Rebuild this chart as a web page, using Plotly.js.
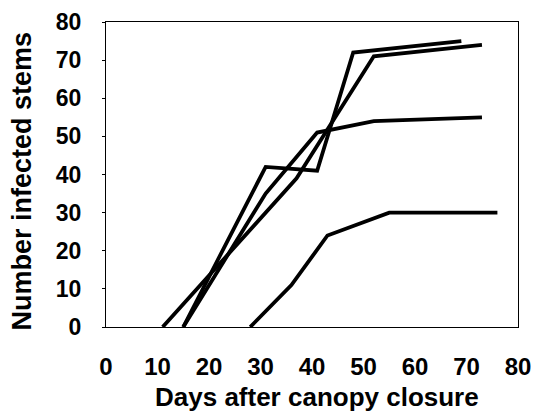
<!DOCTYPE html>
<html>
<head>
<meta charset="utf-8">
<script src="https://cdn.plot.ly/plotly-3.0.1.min.js"></script>
<style>html,body{margin:0;padding:0;background:#fff;}#chart{width:540px;height:415px;}</style>
</head>
<body>
<div id="chart"></div>
<script>
// Series (days after canopy closure, number infected stems)
const daysA = [28, 36, 43, 55, 76];
const stemsA = [0, 11, 24, 30, 30];

const daysB = [11, 37, 52, 73];
const stemsB = [0, 39, 71, 74];

const daysC = [15, 31, 41, 48, 69];
const stemsC = [0, 42, 41, 72, 75];

const daysD = [15, 31, 41, 52, 73];
const stemsD = [0, 35, 51, 54, 55];

const xTicks = [0, 10, 20, 30, 40, 50, 60, 70, 80];
const yTicks = [0, 10, 20, 30, 40, 50, 60, 70, 80];

const xTitle = 'Days after canopy closure';
const yTitle = 'Number infected stems';

const lineStyle = {color: '#000000', width: 3.8};
const traces = [
  {x: daysA, y: stemsA},
  {x: daysB, y: stemsB},
  {x: daysC, y: stemsC},
  {x: daysD, y: stemsD}
].map(t => Object.assign({type: 'scatter', mode: 'lines', line: lineStyle, hoverinfo: 'none', cliponaxis: true}, t));

const fontFam = 'Arial, "Liberation Sans", Helvetica, sans-serif';

const layout = {
  width: 540, height: 415,
  margin: {l: 106, r: 22, t: 22, b: 88},
  paper_bgcolor: '#ffffff', plot_bgcolor: '#ffffff',
  showlegend: false,
  font: {family: fontFam, color: '#000000'},
  xaxis: {
    range: [0, 80], tickvals: xTicks, ticktext: xTicks.map(String),
    showgrid: false, zeroline: false,
    showline: true, mirror: true, linecolor: '#000000', linewidth: 1,
    ticks: '', ticklabelstandoff: 18, tickangle: 0,
    tickfont: {family: fontFam, size: 24, weight: 'bold', color: '#000000'},
    automargin: false, fixedrange: true
  },
  yaxis: {
    range: [0, 80], tickvals: yTicks, ticktext: yTicks.map(String),
    showgrid: false, zeroline: false,
    showline: true, mirror: true, linecolor: '#000000', linewidth: 1,
    ticks: 'outside', ticklen: 3, tickwidth: 1, tickcolor: '#000000', ticklabelstandoff: 16,
    tickfont: {family: fontFam, size: 23, weight: 'bold', color: '#000000'},
    automargin: false, fixedrange: true
  },
  annotations: [
    {text: xTitle, xref: 'paper', yref: 'paper', x: 0.512, y: -0.228, xanchor: 'center', yanchor: 'middle',
     showarrow: false, font: {family: fontFam, size: 26, weight: 'bold', color: '#000000'}},
    {text: yTitle, xref: 'paper', yref: 'paper', x: -0.205, y: 0.479, xanchor: 'center', yanchor: 'middle',
     textangle: -90, showarrow: false, font: {family: fontFam, size: 27, weight: 'bold', color: '#000000'}}
  ]
};

Plotly.newPlot('chart', traces, layout, {staticPlot: true, displayModeBar: false});
</script>
</body>
</html>
